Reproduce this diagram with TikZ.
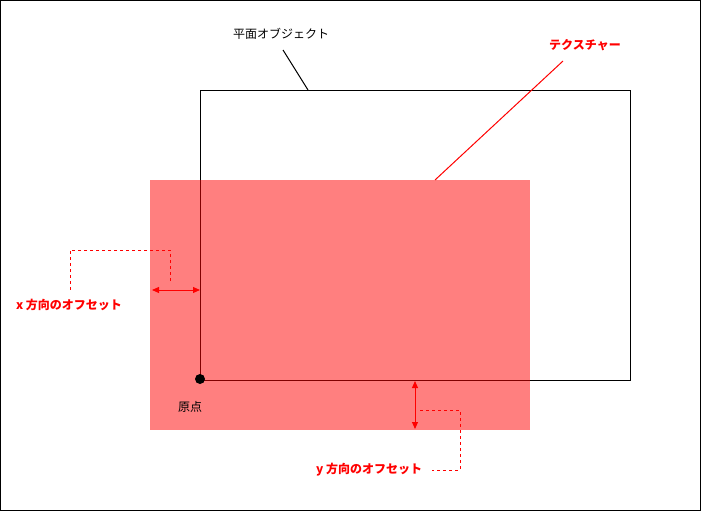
\documentclass[tikz,border=0pt]{standalone}
\usepackage{fontspec}
\newfontfamily\jpfont{Noto Sans CJK JP}
\usetikzlibrary{arrows.meta}
\tikzset{
	lbl/.style={font=\jpfont\fontsize{12}{14}\selectfont},
	redlbl/.style={lbl,text=red,font=\jpfont\bfseries\fontsize{12}{14}\selectfont},
	offset/.style={red,line width=1pt,{Triangle[length=7pt,width=6pt]}-{Triangle[length=7pt,width=6pt]}},
	guide/.style={red,line width=0.8pt,dash pattern=on 3pt off 3pt}
}
\begin{document}
	\begin{tikzpicture}[x=1pt,y=-1pt,line width=1pt]
			\useasboundingbox (0,0) rectangle (701,511);
			\draw (0.5,0.5) rectangle (700.5,510.5);
			% plane object and texture
			\draw (200,90) rectangle (630,380);
			\fill[red,opacity=0.5] (150,180) rectangle (530,430);
			\fill[black] (200,379) circle (5) coordinate (origin);
			\node[lbl] (originlbl) at (190,407) {原点};
			% callouts
			\node[lbl] (planelbl) at (281,34) {平面オブジェクト};
			\coordinate (planetop) at (308,90);
			\draw (283,50) coordinate (planeend) -- (planetop);
			\node[redlbl] (texlbl) at (585,45) {テクスチャー};
			\coordinate (textop) at (435,180);
			\draw[red] (563,61) coordinate (texend) -- (textop);
			% x offset
			\coordinate (xa) at (152,290);
			\coordinate (xb) at (200,290);
			\draw[offset] (xa) -- (xb);
			\node[redlbl] (xlbl) at (69,305) {x 方向のオフセット};
			\coordinate (xg) at (170,281);
			\draw[guide] (xg) -- (170,250) -- (70,250) -- (70,291);
			% y offset
			\coordinate (ya) at (415,381);
			\coordinate (yb) at (415,429);
			\draw[offset] (ya) -- (yb);
			\node[redlbl] (ylbl) at (369,470) {y 方向のオフセット};
			\coordinate (yg) at (420,410);
			\draw[guide] (yg) -- (460,410) -- (460,470) -- (432,470);
	\end{tikzpicture}
\end{document}
